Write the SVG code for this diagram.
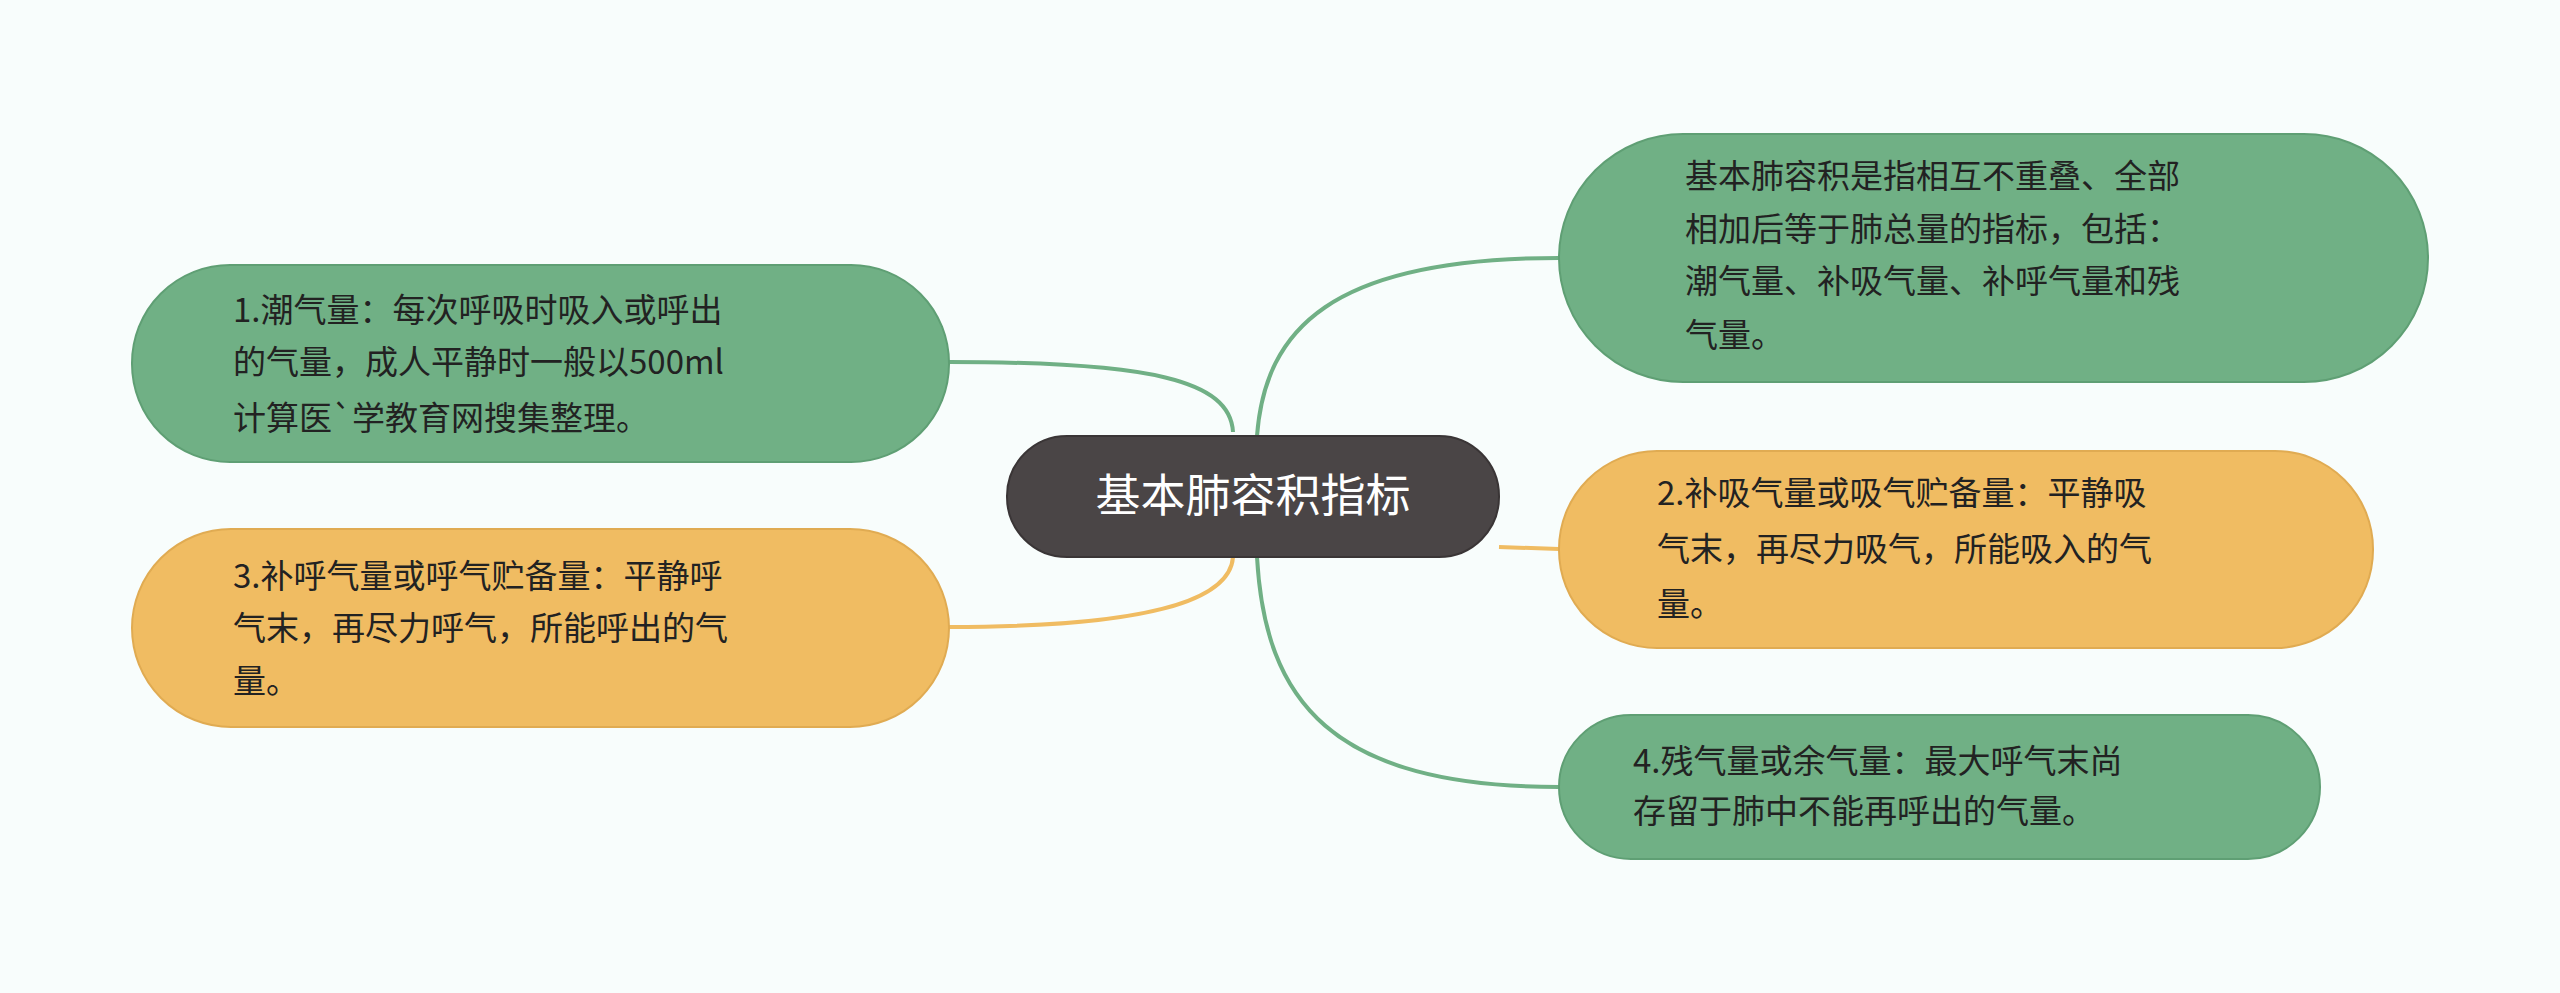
<svg xmlns="http://www.w3.org/2000/svg" width="2560" height="993" viewBox="0 0 2560 993">
<style>
.t{font-family:"Noto Sans CJK SC","Noto Sans",sans-serif;font-size:33px;fill:#222}
.c{font-family:"Noto Sans CJK SC","Noto Sans",sans-serif;font-size:45px;fill:#fff}
.g{fill:#70b085;stroke:#5f9f74;stroke-width:2}
.o{fill:#f0bc62;stroke:#e0ab52;stroke-width:2}
.lg{fill:none;stroke:#70b085;stroke-width:4}
.lo{fill:none;stroke:#f0bc62;stroke-width:4}
</style>
<rect width="2560" height="993" fill="#f8fdfc"/>
<g id="connectors">
<path class="lg" d="M949 362 C1150 362 1230 380 1233 432"/>
<path class="lo" d="M949 627 C1150 627 1230 600 1233 557"/>
<path class="lg" d="M1257 436 C1265 330 1330 258 1559 258"/>
<path class="lg" d="M1257 557 C1265 700 1330 787 1559 787"/>
<path class="lo" d="M1499 547 L1559 549"/>
</g>
<g id="center">
<rect x="1007" y="436" width="492" height="121" rx="60" fill="#4a4546" stroke="#3a3536" stroke-width="2"/>
<text class="c" x="1253" y="512" text-anchor="middle">基本肺容积指标</text>
</g>
<g id="rt">
<rect class="g" x="1559" y="134" width="869" height="248" rx="124"/>
<text class="t" x="1685" y="188">基本肺容积是指相互不重叠、全部</text>
<text class="t" x="1685" y="241">相加后等于肺总量的指标，包括：</text>
<text class="t" x="1685" y="293">潮气量、补吸气量、补呼气量和残</text>
<text class="t" x="1685" y="347">气量。</text>
</g>
<g id="rm">
<rect class="o" x="1559" y="451" width="814" height="197" rx="98"/>
<text class="t" x="1657" y="505">2.补吸气量或吸气贮备量：平静吸</text>
<text class="t" x="1657" y="561">气末，再尽力吸气，所能吸入的气</text>
<text class="t" x="1657" y="616">量。</text>
</g>
<g id="rb">
<rect class="g" x="1559" y="715" width="761" height="144" rx="72"/>
<text class="t" x="1633" y="773">4.残气量或余气量：最大呼气末尚</text>
<text class="t" x="1633" y="823">存留于肺中不能再呼出的气量。</text>
</g>
<g id="lt">
<rect class="g" x="132" y="265" width="817" height="197" rx="98"/>
<text class="t" x="233" y="322">1.潮气量：每次呼吸时吸入或呼出</text>
<text class="t" x="233" y="374">的气量，成人平静时一般以500ml</text>
<text class="t" x="233" y="430">计算医`学教育网搜集整理。</text>
</g>
<g id="lb">
<rect class="o" x="132" y="529" width="817" height="198" rx="99"/>
<text class="t" x="233" y="588">3.补呼气量或呼气贮备量：平静呼</text>
<text class="t" x="233" y="640">气末，再尽力呼气，所能呼出的气</text>
<text class="t" x="233" y="693">量。</text>
</g>
</svg>
